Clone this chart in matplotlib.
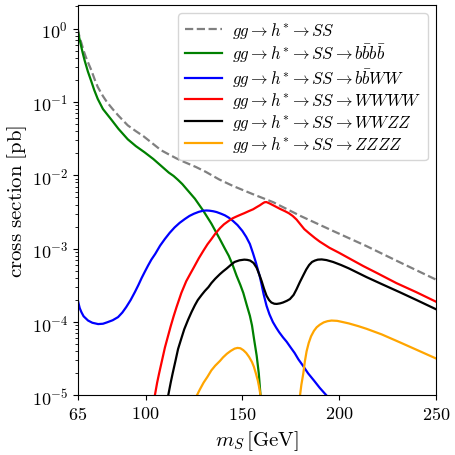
import matplotlib
matplotlib.use("Agg")
import matplotlib.pyplot as plt

plt.rcParams['mathtext.fontset'] = 'cm'
plt.rcParams['font.family'] = 'serif'
plt.rcParams['font.serif'] = ['cmr10', 'DejaVu Serif']
plt.rcParams['axes.formatter.use_mathtext'] = True

# ---- data (m_S in GeV, cross section in pb) ----
m_ss = [65, 65.5, 66, 66.9, 68, 69, 70.2, 72, 73.8, 75.3, 78, 80, 83, 86, 90.8,
        95, 99, 103, 108, 112, 116, 120, 126, 131, 138, 145, 155, 166, 180,
        197, 214, 231, 250]
xs_ss = [1.0, 0.85, 0.75, 0.63, 0.5, 0.42, 0.35, 0.27, 0.2, 0.16, 0.12, 0.1,
         0.08, 0.065, 0.048, 0.04, 0.034, 0.028, 0.022, 0.0193, 0.017, 0.0152,
         0.013, 0.0112, 0.0088, 0.0072, 0.0056, 0.0043, 0.0028, 0.00174,
         0.00109, 0.00066, 0.00038]

m_bbbb = [65, 65.5, 66, 66.7, 67.5, 68.5, 70.2, 72, 73.5, 75.3, 78, 82.2, 86,
          90.8, 95, 99.5, 104, 108, 112, 114.5, 116.7, 119, 121.2, 125.5, 129.8,
          134, 138.4, 141, 143, 145, 147, 149, 150.5, 152.3, 153.9, 155, 156,
          157.4, 158.5, 159.4, 160]
xs_bbbb = [0.95, 0.8, 0.7, 0.58, 0.47, 0.37, 0.26, 0.19, 0.145, 0.11, 0.08,
           0.058, 0.043, 0.031, 0.025, 0.0206, 0.0167, 0.0135, 0.0109, 0.0098,
           0.0087, 0.0076, 0.0065, 0.0048, 0.0033, 0.0022, 0.00135, 0.001,
           0.0008, 0.0006, 0.00043, 0.00032, 0.00025, 1.7e-4, 1.22e-4, 9e-5,
           6e-5, 3.5e-5, 2e-5, 1e-5, 5e-6]

m_bbww = [65, 65.5, 66, 66.9, 68, 70.3, 72.5, 75.5, 78, 80, 83, 85.8, 88, 90,
          92.3, 94.5, 96.3, 98, 99.7, 101.3, 103, 105, 107.5, 110, 112.5, 115,
          117.6, 120.3, 122.7, 125, 127.5, 129.8, 131.5, 133, 135, 136.7, 139,
          141, 143, 145.1, 147.5, 150, 152, 153.9, 155.5, 157, 158, 159.1, 160,
          161, 162.5, 164, 165.8, 167.5, 169, 171, 172.9, 175, 177, 179, 181.3,
          184, 187, 190, 193.5, 195]
xs_bbww = [2.0e-4, 1.75e-4, 1.55e-4, 1.36e-4, 1.2e-4, 1.05e-4, 9.8e-5, 9.4e-5,
           9.5e-5, 9.9e-5, 1.06e-4, 1.17e-4, 1.35e-4, 1.6e-4, 2.0e-4, 2.57e-4,
           3.2e-4, 4.0e-4, 4.9e-4, 5.9e-4, 7.1e-4, 8.5e-4, 1.1e-3, 1.36e-3,
           1.65e-3, 1.95e-3, 2.25e-3, 2.54e-3, 2.8e-3, 3.0e-3, 3.18e-3, 3.3e-3,
           3.32e-3, 3.3e-3, 3.24e-3, 3.16e-3, 3.0e-3, 2.85e-3, 2.65e-3, 2.4e-3,
           2.1e-3, 1.75e-3, 1.45e-3, 1.16e-3, 8.7e-4, 6.5e-4, 5.2e-4, 4.1e-4,
           3.2e-4, 2.4e-4, 1.67e-4, 1.28e-4, 1.0e-4, 8.4e-5, 7.3e-5, 6.2e-5,
           5.4e-5, 4.5e-5, 3.8e-5, 3.1e-5, 2.55e-5, 2.0e-5, 1.6e-5, 1.27e-5,
           1.0e-5, 9e-6]

m_wwww = [104.8, 106, 107, 108.5, 110, 111.5, 113, 114.5, 116, 118.5, 121, 123,
          125, 127.5, 130, 132, 134, 136, 138.4, 140.5, 143, 145, 147, 149, 151,
          153.3, 155.6, 157.5, 159, 160.5, 161.5, 162.5, 164, 166, 169.4, 172,
          174, 176, 178, 180, 182, 184.8, 187.5, 190, 195, 200, 206, 212.5, 220,
          229.6, 240, 250]
xs_wwww = [1e-5, 1.5e-5, 2.0e-5, 3e-5, 4.5e-5, 6.3e-5, 8.8e-5, 1.2e-4, 1.6e-4,
           2.5e-4, 3.6e-4, 4.5e-4, 5.6e-4, 7.4e-4, 9.5e-4, 1.15e-3, 1.35e-3,
           1.6e-3, 1.9e-3, 2.15e-3, 2.4e-3, 2.6e-3, 2.75e-3, 2.9e-3, 3.05e-3,
           3.25e-3, 3.45e-3, 3.7e-3, 3.9e-3, 4.15e-3, 4.3e-3, 4.32e-3, 4.15e-3,
           3.9e-3, 3.5e-3, 3.25e-3, 3.05e-3, 2.8e-3, 2.5e-3, 2.15e-3, 1.85e-3,
           1.6e-3, 1.4e-3, 1.25e-3, 1.03e-3, 8.8e-4, 7.2e-4, 5.8e-4, 4.6e-4,
           3.4e-4, 2.55e-4, 1.9e-4]

m_wwzz = [111.7, 113, 114, 115.5, 116.8, 118.5, 120, 122, 123.8, 125.5, 127,
          129, 130.6, 132.5, 134, 136, 138.4, 140, 142, 144, 146, 148.5, 151,
          152.5, 154, 155.8, 157.4, 158.7, 160, 161.2, 162.5, 163.8, 165, 166.5,
          167.8, 169.5, 171, 173, 174.6, 176.5, 178, 179.7, 181.4, 183, 184.5,
          186, 187.5, 189, 191, 193.5, 196.9, 201, 205, 214.2, 222, 231.4, 240,
          250]
xs_wwzz = [1e-5, 1.5e-5, 2.0e-5, 3e-5, 4.3e-5, 6e-5, 8e-5, 1.08e-4, 1.38e-4,
           1.7e-4, 2.0e-4, 2.35e-4, 2.65e-4, 3.0e-4, 3.4e-4, 3.9e-4, 4.5e-4,
           4.9e-4, 5.4e-4, 6.0e-4, 6.6e-4, 6.95e-4, 7.1e-4, 7.05e-4, 6.9e-4,
           6.4e-4, 5.5e-4, 4.5e-4, 3.6e-4, 2.85e-4, 2.29e-4, 2.0e-4, 1.85e-4,
           1.78e-4, 1.77e-4, 1.8e-4, 1.85e-4, 1.95e-4, 2.06e-4, 2.35e-4, 2.8e-4,
           3.5e-4, 4.3e-4, 5.2e-4, 6.0e-4, 6.6e-4, 6.9e-4, 7.1e-4, 7.15e-4,
           7.0e-4, 6.6e-4, 6.0e-4, 5.4e-4, 4.1e-4, 3.3e-4, 2.55e-4, 2.0e-4,
           1.5e-4]

m_zzzz_a = [126.5, 128, 130, 132, 134, 136, 138.4, 140, 142, 144, 146, 147.5,
            149, 150.5, 152, 153.5, 155, 156, 157, 158, 158.8, 159.4, 160]
xs_zzzz_a = [1e-5, 1.2e-5, 1.5e-5, 1.8e-5, 2.2e-5, 2.55e-5, 2.95e-5, 3.3e-5,
             3.7e-5, 4.05e-5, 4.35e-5, 4.45e-5, 4.4e-5, 4.15e-5, 3.8e-5,
             3.35e-5, 2.85e-5, 2.45e-5, 2.0e-5, 1.6e-5, 1.25e-5, 1.0e-5, 7e-6]
m_zzzz_b = [179.8, 180.5, 181.5, 182.3, 183.2, 184.3, 185.5, 187, 188.4, 190,
            192, 194, 196.1, 199, 202, 205, 210, 214.2, 222, 231.4, 240, 250]
xs_zzzz_b = [1e-5, 1.4e-5, 2.0e-5, 2.9e-5, 4.0e-5, 5.2e-5, 6.4e-5, 7.6e-5,
             8.5e-5, 9.2e-5, 9.9e-5, 1.03e-4, 1.05e-4, 1.04e-4, 1.0e-4, 9.6e-5,
             8.8e-5, 8.1e-5, 6.8e-5, 5.3e-5, 4.2e-5, 3.2e-5]

labels = [r'$gg\to h^{*}\to SS$',
          r'$gg\to h^{*}\to SS\to b\bar{b}b\bar{b}$',
          r'$gg\to h^{*}\to SS\to b\bar{b}WW$',
          r'$gg\to h^{*}\to SS\to WWWW$',
          r'$gg\to h^{*}\to SS\to WWZZ$',
          r'$gg\to h^{*}\to SS\to ZZZZ$']

xticks = [65, 100, 150, 200, 250]

fig = plt.figure(figsize=(4.55, 4.56), dpi=100)
ax = fig.add_axes([0.171, 0.1305, 0.787, 0.8565])

ax.plot(m_ss, xs_ss, color='gray', ls='--', lw=1.6, label=labels[0])
ax.plot(m_bbbb, xs_bbbb, color='green', lw=1.6, label=labels[1])
ax.plot(m_bbww, xs_bbww, color='blue', lw=1.6, label=labels[2])
ax.plot(m_wwww, xs_wwww, color='red', lw=1.6, label=labels[3])
ax.plot(m_wwzz, xs_wwzz, color='black', lw=1.6, label=labels[4])
ax.plot(m_zzzz_a, xs_zzzz_a, color='orange', lw=1.6, label=labels[5])
ax.plot(m_zzzz_b, xs_zzzz_b, color='orange', lw=1.6)

ax.set_yscale('log')
ax.set_xlim(65, 250)
ax.set_ylim(1e-5, 2.1)
ax.set_xticks(xticks)
ax.set_xticklabels([r'$%d$' % t for t in xticks])
ax.tick_params(labelsize=13)

ax.set_xlabel(r'$m_S\,[\mathrm{GeV}]$', fontsize=15)
ax.set_ylabel(r'$\mathrm{cross\ section\ [pb]}$', fontsize=15, labelpad=2)

ax.legend(loc='upper right', fontsize=12, handlelength=2.2,
          handletextpad=0.6, borderpad=0.4, labelspacing=0.1)

fig.savefig('out.png', dpi=100)
